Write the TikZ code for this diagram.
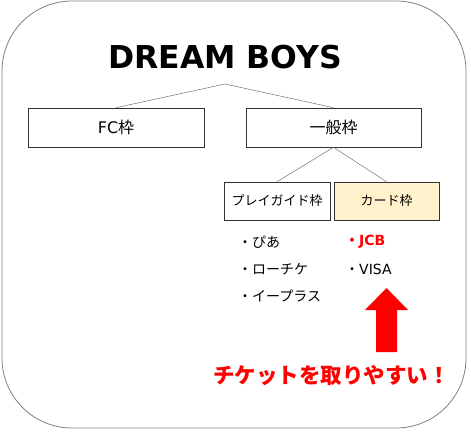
\documentclass[tikz,border=0pt]{standalone}
\usepackage{fontspec}
\setmainfont{DejaVu Sans}
\newfontfamily\jp{Noto Sans CJK JP}

\definecolor{cardfill}{HTML}{FFF2CC}
\definecolor{frameGray}{HTML}{7F7F7F}
\definecolor{alertRed}{HTML}{FF0000}

\tikzset{
  branch/.style = {draw=black!80, line width=0.6pt, minimum height=39pt, inner sep=0pt,
    font=\fontsize{16}{18}\selectfont},
  subbranch/.style = {branch, minimum height=38pt, font=\fontsize{13}{15}\selectfont},
  tieline/.style = {draw=black!55, line width=0.5pt},
  listitem/.style = {anchor=west, inner sep=0pt, font=\fontsize{14}{16}\selectfont},
}

\begin{document}
\begin{tikzpicture}[x=1pt, y=-1pt]

    \newcommand*{\wMax}{471}%
    \newcommand*{\hMax}{432}%
    \def\rowgap {27};

    \useasboundingbox (0,0) rectangle (\wMax,\hMax);
    \draw[frameGray, line width=0.8pt, rounded corners=70pt] (2,1) rectangle (466,428);

    \node[font=\bfseries\fontsize{31.5}{36}\selectfont] (title) at (225,57) {DREAM BOYS};
    \coordinate (apex) at (225,84);

    \node[branch, minimum width=176pt] (fc) at (116,127.5) {FC{\jp 枠}};
    \node[branch, minimum width=175pt] (general) at (333.5,127.5) {\jp 一般枠};
    \draw[tieline] (apex) -- (fc.north);
    \draw[tieline] (apex) -- (general.north);

    \node[subbranch, minimum width=106pt] (playguide) at (277,201) {\jp プレイガイド枠};
    \node[subbranch, minimum width=105pt, fill=cardfill] (card) at (386.5,201) {\jp カード枠};
    \draw[tieline] (general.south) -- (playguide.north);
    \draw[tieline] (general.south) -- (card.north);

    \foreach \i/\txt in {0/ぴあ, 1/ローチケ, 2/イープラス} {
      \pgfmathsetmacro\ycoord{242 + \rowgap*\i};
      \node[listitem] (guide\i) at (238,\ycoord) {\jp ・\txt};
    }
    \node[listitem, text=alertRed, font=\bfseries\fontsize{14}{16}\selectfont] (jcb) at (345,242) {{\jp ・}JCB};
    \node[listitem] (visa) at (345,269) {{\jp ・}VISA};

    % block arrow pointing up at the card brands
    \fill[alertRed] (376,352) -- (376,310) -- (365,310) -- (386.5,288) -- (408,310) -- (397,310) -- (397,352) -- cycle;

    \node[text=alertRed, font=\jp\bfseries\fontsize{21.5}{24}\selectfont] (easy) at (331.5,375) {チケットを取りやすい！};

\end{tikzpicture}
\end{document}
